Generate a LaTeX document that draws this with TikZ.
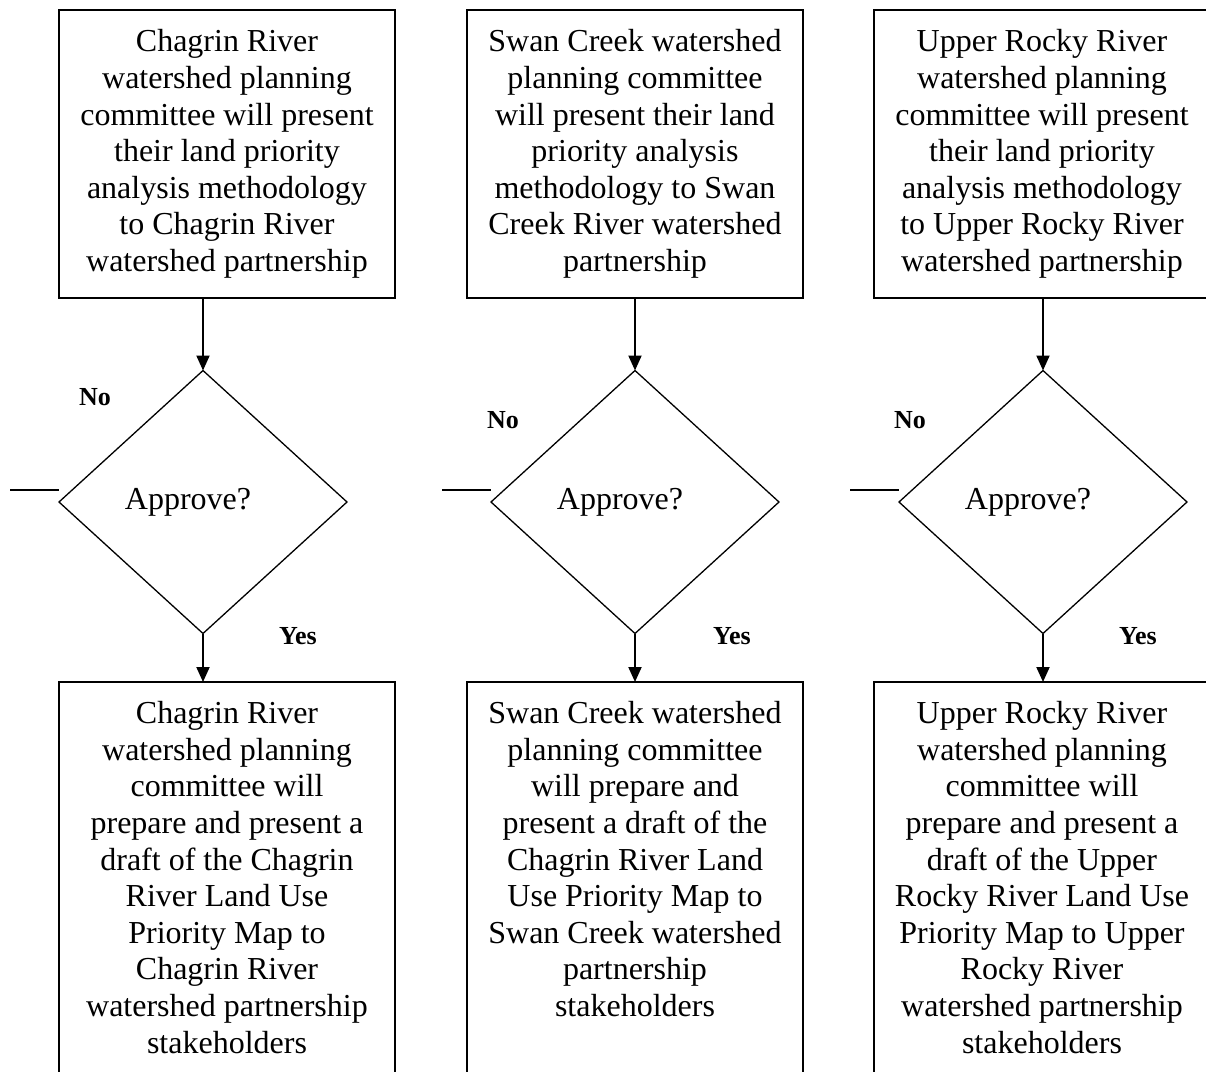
\documentclass[tikz,border=0pt]{standalone}
\usepackage{fontspec}
\setmainfont{Liberation Serif}
\usetikzlibrary{shapes.geometric,arrows.meta}
\newcommand{\flowtext}{\fontsize{16}{18.3}\selectfont}
\newcommand{\branchtext}{\fontsize{13}{15}\selectfont\bfseries}
\begin{document}
\begin{tikzpicture}[x=0.5pt,y=-0.5pt,
  topbox/.style={draw,line width=1pt,minimum width=168pt,minimum height=144pt,
    inner sep=0pt,outer sep=0pt,align=center,font=\flowtext},
  botbox/.style={draw,line width=1pt,minimum width=168pt,minimum height=220pt,
    inner sep=0pt,outer sep=0pt,anchor=north},
  bottext/.style={anchor=north,inner sep=0pt,align=center,font=\flowtext},
  decision/.style={diamond,draw,line width=0.65pt,minimum width=144pt,
    minimum height=131.5pt,inner sep=0pt,outer sep=0pt,font=\flowtext},
  branch/.style={inner sep=0pt,font=\branchtext},
  flow/.style={line width=1pt,-{Triangle[length=7.5pt,width=6.5pt]}},
  stub/.style={line width=0.6pt}]
\useasboundingbox (0,0) rectangle (1206,1072);
\clip (0,0) rectangle (1206,1072);

% ---------- Chagrin River ----------
\node[topbox] (t1) at (227,154) {Chagrin River\\watershed planning\\committee will present\\their land priority\\analysis methodology\\to Chagrin River\\watershed partnership};
\node[decision] (d1) at (203,502) {\raisebox{2.5pt}{Approve?}\hspace*{15pt}};
\node[botbox] (b1) at (227,682) {};
\node[bottext] (bt1) at ([yshift=-9.5pt]b1.north) {Chagrin River\\watershed planning\\committee will\\prepare and present a\\draft of the Chagrin\\River Land Use\\Priority Map to\\Chagrin River\\watershed partnership\\stakeholders};
\node[branch] (no1) at (95,397) {No};
\node[branch] (yes1) at (298,636) {Yes};
\coordinate (n1) at (10,490);
\draw[flow] (d1.north |- t1.south) -- (d1.north);
\draw[flow] (d1.south) -- (d1.south |- b1.north);
\draw[stub] (n1) -- (n1 -| d1.west);

% ---------- Swan Creek ----------
\node[topbox] (t2) at (635,154) {Swan Creek watershed\\planning committee\\will present their land\\priority analysis\\methodology to Swan\\Creek River watershed\\partnership};
\node[decision] (d2) at (635,502) {\raisebox{2.5pt}{Approve?}\hspace*{15pt}};
\node[botbox] (b2) at (635,682) {};
\node[bottext] (bt2) at ([yshift=-9.5pt]b2.north) {Swan Creek watershed\\planning committee\\will prepare and\\present a draft of the\\Chagrin River Land\\Use Priority Map to\\Swan Creek watershed\\partnership\\stakeholders};
\node[branch] (no2) at (503,420) {No};
\node[branch] (yes2) at (732,636) {Yes};
\coordinate (n2) at (442,490);
\draw[flow] (d2.north |- t2.south) -- (d2.north);
\draw[flow] (d2.south) -- (d2.south |- b2.north);
\draw[stub] (n2) -- (n2 -| d2.west);

% ---------- Upper Rocky River ----------
\node[topbox] (t3) at (1042,154) {Upper Rocky River\\watershed planning\\committee will present\\their land priority\\analysis methodology\\to Upper Rocky River\\watershed partnership};
\node[decision] (d3) at (1043,502) {\raisebox{2.5pt}{Approve?}\hspace*{15pt}};
\node[botbox] (b3) at (1042,682) {};
\node[bottext] (bt3) at ([yshift=-9.5pt]b3.north) {Upper Rocky River\\watershed planning\\committee will\\prepare and present a\\draft of the Upper\\Rocky River Land Use\\Priority Map to Upper\\Rocky River\\watershed partnership\\stakeholders};
\node[branch] (no3) at (910,420) {No};
\node[branch] (yes3) at (1138,636) {Yes};
\coordinate (n3) at (850,490);
\draw[flow] (d3.north |- t3.south) -- (d3.north);
\draw[flow] (d3.south) -- (d3.south |- b3.north);
\draw[stub] (n3) -- (n3 -| d3.west);
\end{tikzpicture}
\end{document}
